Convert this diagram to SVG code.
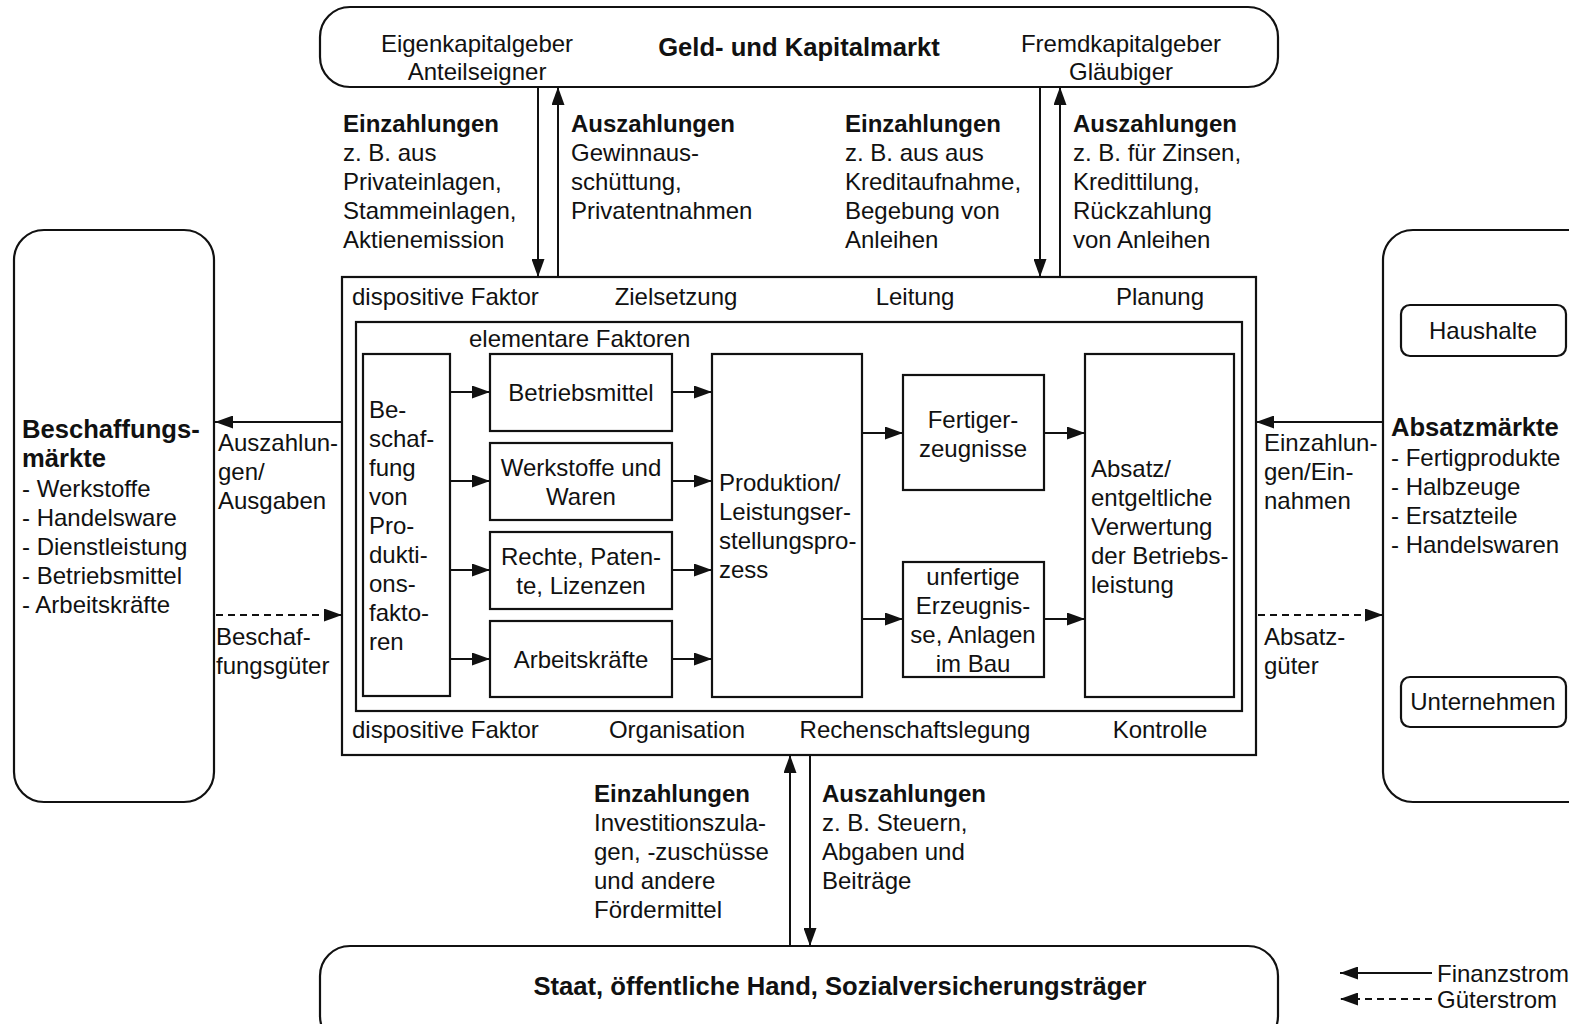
<svg xmlns="http://www.w3.org/2000/svg" width="1569" height="1024" viewBox="0 0 1569 1024">
<style>
text{font-family:"Liberation Sans",Arial,sans-serif;font-size:24px;fill:#111}
.b{font-weight:bold;font-size:24px}
.h{font-weight:bold;font-size:25.6px}
.c{text-anchor:middle}
.box{fill:#fff;stroke:#111;stroke-width:2.2}
.ln{fill:none;stroke:#111;stroke-width:2}
.ds{fill:none;stroke:#111;stroke-width:2;stroke-dasharray:7,5}
</style>
<defs>
<marker id="ah" viewBox="0 0 18 13" refX="18" refY="6.5" markerWidth="18" markerHeight="13" orient="auto" markerUnits="userSpaceOnUse"><path d="M0,0 L18,6.5 L0,13 z" fill="#111"/></marker>
</defs>
<rect width="1569" height="1024" fill="#fff"/>

<g id="kapitalmarkt">
<rect class="box" x="320" y="7" width="958" height="80" rx="30"/>
<text class="c" x="477" y="52">Eigenkapitalgeber</text>
<text class="c" x="477" y="80">Anteilseigner</text>
<text class="c h" x="799" y="56">Geld- und Kapitalmarkt</text>
<text class="c" x="1121" y="52">Fremdkapitalgeber</text>
<text class="c" x="1121" y="80">Gläubiger</text>
</g>

<g id="staat">
<rect class="box" x="320" y="946" width="958" height="100" rx="30"/>
<text class="c h" x="840" y="995">Staat, öffentliche Hand, Sozialversicherungsträger</text>
</g>

<g id="beschaffungsmaerkte">
<rect class="box" x="14" y="230" width="200" height="572" rx="30"/>
<text class="h" x="22" y="438">Beschaffungs-</text>
<text class="h" x="22" y="467">märkte</text>
<text x="22" y="497">- Werkstoffe</text>
<text x="22" y="526">- Handelsware</text>
<text x="22" y="555">- Dienstleistung</text>
<text x="22" y="584">- Betriebsmittel</text>
<text x="22" y="613">- Arbeitskräfte</text>
</g>

<g id="absatzmaerkte">
<rect class="box" x="1383" y="230" width="220" height="572" rx="30"/>
<text class="h" x="1391" y="436">Absatzmärkte</text>
<text x="1391" y="466">- Fertigprodukte</text>
<text x="1391" y="495">- Halbzeuge</text>
<text x="1391" y="524">- Ersatzteile</text>
<text x="1391" y="553">- Handelswaren</text>
</g>
<g id="haushalte">
<rect class="box" x="1401" y="305" width="165" height="51" rx="9"/>
<text class="c" x="1483" y="339">Haushalte</text>
</g>
<g id="unternehmen">
<rect class="box" x="1401" y="677" width="165" height="50" rx="9"/>
<text class="c" x="1483" y="710">Unternehmen</text>
</g>

<g id="betrieb">
<rect class="box" x="342" y="277" width="914" height="478"/>
<text x="352" y="305">dispositive Faktor</text>
<text class="c" x="676" y="305">Zielsetzung</text>
<text class="c" x="915" y="305">Leitung</text>
<text class="c" x="1160" y="305">Planung</text>
<text x="352" y="738">dispositive Faktor</text>
<text class="c" x="677" y="738">Organisation</text>
<text class="c" x="915" y="738">Rechenschaftslegung</text>
<text class="c" x="1160" y="738">Kontrolle</text>
</g>
<g id="elementare">
<rect class="box" x="356" y="322" width="886" height="389"/>
<text x="469" y="347">elementare Faktoren</text>
</g>

<g id="beschaffung">
<rect class="box" x="363" y="354" width="87" height="342"/>
<text x="369" y="418">Be-</text>
<text x="369" y="447">schaf-</text>
<text x="369" y="476">fung</text>
<text x="369" y="505">von</text>
<text x="369" y="534">Pro-</text>
<text x="369" y="563">dukti-</text>
<text x="369" y="592">ons-</text>
<text x="369" y="621">fakto-</text>
<text x="369" y="650">ren</text>
</g>
<g id="betriebsmittel">
<rect class="box" x="490" y="354" width="182" height="77"/>
<text class="c" x="581" y="401">Betriebsmittel</text>
</g>
<g id="werkstoffe">
<rect class="box" x="490" y="443" width="182" height="77"/>
<text class="c" x="581" y="476">Werkstoffe und</text>
<text class="c" x="581" y="505">Waren</text>
</g>
<g id="rechte">
<rect class="box" x="490" y="532" width="182" height="77"/>
<text class="c" x="581" y="565">Rechte, Paten-</text>
<text class="c" x="581" y="594">te, Lizenzen</text>
</g>
<g id="arbeitskraefte">
<rect class="box" x="490" y="621" width="182" height="76"/>
<text class="c" x="581" y="668">Arbeitskräfte</text>
</g>
<g id="produktion">
<rect class="box" x="712" y="354" width="150" height="343"/>
<text x="719" y="491">Produktion/</text>
<text x="719" y="520">Leistungser-</text>
<text x="719" y="549">stellungspro-</text>
<text x="719" y="578">zess</text>
</g>
<g id="fertig">
<rect class="box" x="903" y="375" width="141" height="115"/>
<text class="c" x="973" y="428">Fertiger-</text>
<text class="c" x="973" y="457">zeugnisse</text>
</g>
<g id="unfertig">
<rect class="box" x="903" y="562" width="141" height="115"/>
<text class="c" x="973" y="585">unfertige</text>
<text class="c" x="973" y="614">Erzeugnis-</text>
<text class="c" x="973" y="643">se, Anlagen</text>
<text class="c" x="973" y="672">im Bau</text>
</g>
<g id="absatz">
<rect class="box" x="1085" y="354" width="149" height="343"/>
<text x="1091" y="477">Absatz/</text>
<text x="1091" y="506">entgeltliche</text>
<text x="1091" y="535">Verwertung</text>
<text x="1091" y="564">der Betriebs-</text>
<text x="1091" y="593">leistung</text>
</g>

<g id="labels">
<text class="b" x="343" y="132">Einzahlungen</text>
<text x="343" y="161">z. B. aus</text>
<text x="343" y="190">Privateinlagen,</text>
<text x="343" y="219">Stammeinlagen,</text>
<text x="343" y="248">Aktienemission</text>
<text class="b" x="571" y="132">Auszahlungen</text>
<text x="571" y="161">Gewinnaus-</text>
<text x="571" y="190">schüttung,</text>
<text x="571" y="219">Privatentnahmen</text>
<text class="b" x="845" y="132">Einzahlungen</text>
<text x="845" y="161">z. B. aus aus</text>
<text x="845" y="190">Kreditaufnahme,</text>
<text x="845" y="219">Begebung von</text>
<text x="845" y="248">Anleihen</text>
<text class="b" x="1073" y="132">Auszahlungen</text>
<text x="1073" y="161">z. B. für Zinsen,</text>
<text x="1073" y="190">Kredittilung,</text>
<text x="1073" y="219">Rückzahlung</text>
<text x="1073" y="248">von Anleihen</text>
<text x="218" y="451">Auszahlun-</text>
<text x="218" y="480">gen/</text>
<text x="218" y="509">Ausgaben</text>
<text x="216" y="645">Beschaf-</text>
<text x="216" y="674">fungsgüter</text>
<text x="1264" y="451">Einzahlun-</text>
<text x="1264" y="480">gen/Ein-</text>
<text x="1264" y="509">nahmen</text>
<text x="1264" y="645">Absatz-</text>
<text x="1264" y="674">güter</text>
<text class="b" x="594" y="802">Einzahlungen</text>
<text x="594" y="831">Investitionszula-</text>
<text x="594" y="860">gen, -zuschüsse</text>
<text x="594" y="889">und andere</text>
<text x="594" y="918">Fördermittel</text>
<text class="b" x="822" y="802">Auszahlungen</text>
<text x="822" y="831">z. B. Steuern,</text>
<text x="822" y="860">Abgaben und</text>
<text x="822" y="889">Beiträge</text>
</g>

<g id="connectors">
<line class="ln" x1="538" y1="87" x2="538" y2="277" marker-end="url(#ah)"/>
<line class="ln" x1="558" y1="277" x2="558" y2="87" marker-end="url(#ah)"/>
<line class="ln" x1="1040" y1="87" x2="1040" y2="277" marker-end="url(#ah)"/>
<line class="ln" x1="1060" y1="277" x2="1060" y2="87" marker-end="url(#ah)"/>
<line class="ln" x1="790" y1="946" x2="790" y2="755" marker-end="url(#ah)"/>
<line class="ln" x1="810" y1="755" x2="810" y2="946" marker-end="url(#ah)"/>
<line class="ln" x1="342" y1="422" x2="215" y2="422" marker-end="url(#ah)"/>
<line class="ds" x1="216" y1="615" x2="342" y2="615" marker-end="url(#ah)"/>
<line class="ln" x1="1383" y1="422" x2="1256" y2="422" marker-end="url(#ah)"/>
<line class="ds" x1="1258" y1="615" x2="1383" y2="615" marker-end="url(#ah)"/>
<line class="ln" x1="450" y1="392" x2="490" y2="392" marker-end="url(#ah)"/>
<line class="ln" x1="450" y1="481" x2="490" y2="481" marker-end="url(#ah)"/>
<line class="ln" x1="450" y1="570" x2="490" y2="570" marker-end="url(#ah)"/>
<line class="ln" x1="450" y1="659" x2="490" y2="659" marker-end="url(#ah)"/>
<line class="ln" x1="672" y1="392" x2="712" y2="392" marker-end="url(#ah)"/>
<line class="ln" x1="672" y1="481" x2="712" y2="481" marker-end="url(#ah)"/>
<line class="ln" x1="672" y1="570" x2="712" y2="570" marker-end="url(#ah)"/>
<line class="ln" x1="672" y1="659" x2="712" y2="659" marker-end="url(#ah)"/>
<line class="ln" x1="862" y1="433" x2="903" y2="433" marker-end="url(#ah)"/>
<line class="ln" x1="862" y1="619" x2="903" y2="619" marker-end="url(#ah)"/>
<line class="ln" x1="1044" y1="433" x2="1085" y2="433" marker-end="url(#ah)"/>
<line class="ln" x1="1044" y1="619" x2="1085" y2="619" marker-end="url(#ah)"/>
</g>

<g id="legend">
<line class="ln" x1="1432" y1="973" x2="1340" y2="973" marker-end="url(#ah)"/>
<line class="ds" x1="1432" y1="999" x2="1340" y2="999" marker-end="url(#ah)"/>
<text x="1437" y="982">Finanzstrom</text>
<text x="1437" y="1008">Güterstrom</text>
</g>
</svg>
